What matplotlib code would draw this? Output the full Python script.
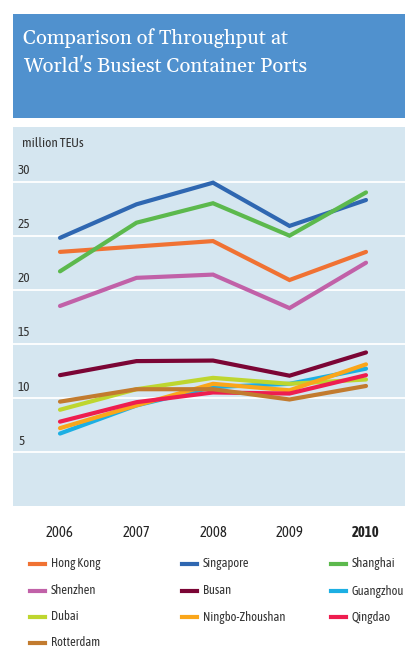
import matplotlib
matplotlib.use("Agg")
import matplotlib.pyplot as plt
from matplotlib.patches import Rectangle
from matplotlib.lines import Line2D

years = [2006, 2007, 2008, 2009, 2010]
ports = ["Hong Kong", "Singapore", "Shanghai", "Shenzhen", "Busan", "Guangzhou",
         "Dubai", "Ningbo-Zhoushan", "Qingdao", "Rotterdam"]
hong_kong = [23.5, 24.0, 24.5, 20.9, 23.5]
singapore = [24.8, 27.9, 29.9, 25.9, 28.3]
shanghai = [21.7, 26.2, 28.0, 25.0, 29.0]
shenzhen = [18.5, 21.1, 21.4, 18.3, 22.5]
busan = [12.1, 13.4, 13.45, 12.05, 14.2]
guangzhou = [6.7, 9.3, 11.0, 11.3, 12.7]
dubai = [8.9, 10.8, 11.85, 11.3, 11.7]
ningbo = [7.2, 9.3, 11.3, 10.7, 13.1]
qingdao = [7.8, 9.6, 10.5, 10.4, 12.1]
rotterdam = [9.65, 10.8, 10.8, 9.85, 11.1]
series = [hong_kong, singapore, shanghai, shenzhen, busan, guangzhou, dubai, ningbo, qingdao, rotterdam]
colors = ["#F07233", "#2F67B1", "#5CB94D", "#C161A8", "#7B0535", "#1CAFE3",
          "#BED62F", "#FAA61A", "#EE1D4F", "#C27B2F"]
yticks = [5, 10, 15, 20, 25, 30]

sans = ["Asap Condensed", "Barlow Semi Condensed", "DejaVu Sans"]
serif = ["Gelasio", "Liberation Serif", "DejaVu Serif"]

W, H = 405, 648
fig = plt.figure(figsize=(W / 100, H / 100), dpi=100)
fig.patch.set_facecolor("white")

def fx(px): return px / W
def fy(py): return 1 - py / H

# title box
fig.patches.append(Rectangle((fx(13), fy(118)), fx(405 - 13), (118 - 14) / H,
                             transform=fig.transFigure, facecolor="#5091CE", edgecolor="none"))
fig.text(fx(23), fy(38), "Comparison of Throughput at", family=serif, fontsize=14.5,
         color="white", va="center", ha="left")
fig.text(fx(23), fy(66), "World's Busiest Container Ports", family=serif, fontsize=14.5,
         color="white", va="center", ha="left")

ax = fig.add_axes([fx(13), fy(506), fx(405 - 13), (506 - 127) / H])
ax.set_facecolor("#D5E6F0")
for s in ax.spines.values():
    s.set_visible(False)
x0 = 2006 - (60 - 13) * 4 / 306
x1 = 2010 + (405 - 366) * 4 / 306
ax.set_xlim(x0, x1)
ax.set_ylim(0, 35.05)
ax.set_xticks([])
ax.set_yticks([])
for v in yticks:
    ax.axhline(v, color="white", lw=1.3, zorder=1)
    ax.text(x0 + (18 - 13) * 4 / 306, v + 0.4, str(v), family=sans, fontsize=9.5,
            color="#333333", ha="left", va="bottom")
ax.text(x0 + (22 - 13) * 4 / 306, 33.5, "million TEUs", family=sans, fontsize=9.5,
        color="#333333", ha="left", va="center")

for vals, c in zip(series, colors):
    ax.plot(years, vals, color=c, lw=3, solid_capstyle="round", solid_joinstyle="miter", zorder=3)

for yr in years:
    ax.text(yr, -2.5, str(yr), family=sans, fontsize=10.5, color="#222222",
            ha="center", va="center", fontweight="bold" if yr == 2010 else "normal",
            clip_on=False)

# legend
col_x = [30, 182, 331]
row_y = [564, 591, 617, 643]
for i, (name, c) in enumerate(zip(ports, colors)):
    r, cidx = divmod(i, 3)
    hx, hy = col_x[cidx], row_y[r]
    fig.lines.append(Line2D([fx(hx), fx(hx + 15)], [fy(hy), fy(hy)], transform=fig.transFigure,
                            color=c, lw=3))
    fig.text(fx(hx + 21), fy(hy), name, family=sans, fontsize=9, color="#333333",
             ha="left", va="center")

fig.savefig("out.png", dpi=100)
